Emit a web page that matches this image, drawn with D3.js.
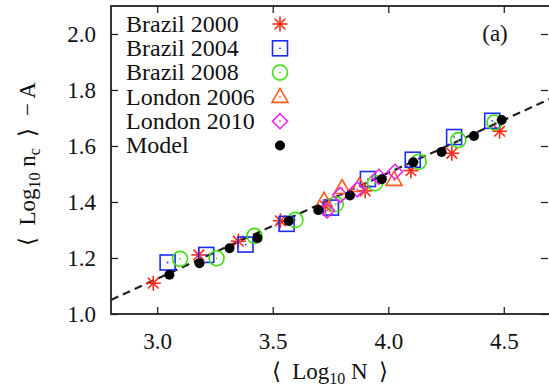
<!DOCTYPE html>
<html>
<head>
<meta charset="utf-8">
<script src="https://cdn.jsdelivr.net/npm/d3@7/dist/d3.min.js"></script>
<style>
  html, body { margin: 0; padding: 0; background: #fff; }
  svg { display: block; }
</style>
</head>
<body>
<svg id="chart" width="549" height="391"></svg>
<script>
// Series: [<Log10 N>, <Log10 nc> - A]
const brazil2000 = [[2.983,1.110],[3.180,1.211],[3.351,1.260],[3.533,1.333],[3.728,1.385],[3.900,1.440],[4.098,1.512],[4.275,1.574],[4.482,1.653]];
const brazil2004 = [[3.045,1.184],[3.212,1.211],[3.382,1.248],[3.560,1.322],[3.752,1.380],[3.912,1.482],[4.106,1.551],[4.285,1.632],[4.450,1.690]];
const brazil2008 = [[3.099,1.197],[3.257,1.199],[3.421,1.279],[3.598,1.336],[3.773,1.392],[3.943,1.467],[4.132,1.544],[4.303,1.621],[4.460,1.684]];
const london2006 = [[3.722,1.405],[3.800,1.450],[3.875,1.457],[4.025,1.479]];
const london2010 = [[3.735,1.370],[3.792,1.425],[3.866,1.445],[3.959,1.490],[4.029,1.508]];
const model      = [[3.053,1.140],[3.183,1.181],[3.313,1.235],[3.434,1.271],[3.569,1.332],[3.697,1.371],[3.834,1.423],[3.972,1.481],[4.108,1.542],[4.231,1.579],[4.371,1.636],[4.491,1.693]];

// Fitted line y = slope * x + intercept
const fitSlope = 0.378;
const fitIntercept = -0.008;

const xTicks = [3.0, 3.5, 4.0, 4.5];
const yTicks = [1.0, 1.2, 1.4, 1.6, 1.8, 2.0];
const xDomain = [2.8, 4.7];
const yDomain = [1.0, 2.1];

const FONT = "Liberation Serif";
const FS = 23;
const LEG_FS = 24;
const SUB = 16;

const svg = d3.select("#chart");
const M = { left: 111, right: 550, top: 6, bottom: 314 };

const x = d3.scaleLinear().domain(xDomain).range([M.left, M.right]);
const y = d3.scaleLinear().domain(yDomain).range([M.bottom, M.top]);

const tickLen = 7;
const fmt = d3.format(".1f");

function styleLabels(g) {
  g.attr("font-family", FONT).attr("font-size", FS);
  g.selectAll("text").attr("font-family", FONT).attr("font-size", FS).attr("fill", "#111");
}

// Axes with inward ticks on all four sides
svg.append("g").attr("transform", `translate(0,${M.bottom})`)
  .call(d3.axisBottom(x).tickValues(xTicks).tickSizeInner(-tickLen).tickSizeOuter(0).tickPadding(19).tickFormat(fmt))
  .call(g => g.select(".domain").remove())
  .call(styleLabels);
svg.append("g").attr("transform", `translate(0,${M.top})`)
  .call(d3.axisTop(x).tickValues(xTicks).tickSizeInner(-tickLen).tickSizeOuter(0).tickFormat(""))
  .call(g => g.select(".domain").remove());
svg.append("g").attr("transform", `translate(${M.left},0)`)
  .call(d3.axisLeft(y).tickValues(yTicks).tickSizeInner(-tickLen).tickSizeOuter(0).tickPadding(15).tickFormat(fmt))
  .call(g => g.select(".domain").remove())
  .call(styleLabels);
svg.append("g").attr("transform", `translate(${M.right - 2},0)`)
  .call(d3.axisRight(y).tickValues(yTicks).tickSizeInner(-tickLen).tickSizeOuter(0).tickFormat(""))
  .call(g => g.select(".domain").remove());
svg.selectAll(".tick line").attr("stroke", "#222").attr("stroke-width", 1.3);

// Plot border
svg.append("rect")
  .attr("x", M.left).attr("y", M.top)
  .attr("width", M.right - M.left).attr("height", M.bottom - M.top)
  .attr("fill", "none").attr("stroke", "#222").attr("stroke-width", 1.8);

// Dashed fit line
svg.append("clipPath").attr("id", "plotclip")
  .append("rect").attr("x", M.left).attr("y", M.top).attr("width", M.right - M.left).attr("height", M.bottom - M.top);
svg.append("line")
  .attr("clip-path", "url(#plotclip)")
  .attr("x1", x(xDomain[0])).attr("y1", y(fitSlope * xDomain[0] + fitIntercept))
  .attr("x2", x(xDomain[1])).attr("y2", y(fitSlope * xDomain[1] + fitIntercept))
  .attr("stroke", "#222").attr("stroke-width", 2.2).attr("stroke-dasharray", "8,5");

// Marker drawers
const sw = 1.6;
function star(g, color) {
  const r = 7.5;
  [0, 45, 90, 135].forEach(a => {
    const t = a * Math.PI / 180;
    g.append("line").attr("x1", -r * Math.cos(t)).attr("y1", -r * Math.sin(t))
      .attr("x2", r * Math.cos(t)).attr("y2", r * Math.sin(t))
      .attr("stroke", color).attr("stroke-width", sw);
  });
}
function centerDot(g, color) {
  g.append("circle").attr("r", 0.9).attr("fill", color);
}
function square(g, color) {
  g.append("rect").attr("x", -7.5).attr("y", -7.5).attr("width", 15).attr("height", 15)
    .attr("fill", "none").attr("stroke", color).attr("stroke-width", sw);
  centerDot(g, color);
}
function circle(g, color) {
  g.append("circle").attr("r", 7.5).attr("fill", "none").attr("stroke", color).attr("stroke-width", sw);
  centerDot(g, color);
}
function triangle(g, color) {
  g.append("path").attr("d", "M0,-8.5L8,5.5L-8,5.5Z")
    .attr("fill", "none").attr("stroke", color).attr("stroke-width", sw);
  centerDot(g, color);
}
function diamond(g, color) {
  g.append("path").attr("d", "M0,-7.5L7.5,0L0,7.5L-7.5,0Z")
    .attr("fill", "none").attr("stroke", color).attr("stroke-width", sw);
  centerDot(g, color);
}
function dot(g, color) {
  g.append("circle").attr("r", 5).attr("fill", color);
}

const series = [
  { name: "Brazil 2000", data: brazil2000, color: "#ff2a1a", draw: star },
  { name: "Brazil 2004", data: brazil2004, color: "#1a2cf0", draw: square },
  { name: "Brazil 2008", data: brazil2008, color: "#3fe010", draw: circle },
  { name: "London 2006", data: london2006, color: "#ff5a1a", draw: triangle },
  { name: "London 2010", data: london2010, color: "#f020f0", draw: diamond },
  { name: "Model",       data: model,      color: "#000000", draw: dot }
];

const plot = svg.append("g").attr("clip-path", "url(#plotclip)");
series.forEach(s => {
  s.data.forEach(d => {
    const g = plot.append("g").attr("transform", `translate(${x(d[0])},${y(d[1])})`);
    s.draw(g, s.color);
  });
});

// Legend
const legend = svg.append("g");
series.forEach((s, i) => {
  const cy = 24 + i * 24.3;
  legend.append("text").attr("x", 126).attr("y", cy + 7.7)
    .attr("font-family", FONT).attr("font-size", LEG_FS).attr("fill", "#111").text(s.name);
  const g = legend.append("g").attr("transform", `translate(280,${cy})`);
  s.draw(g, s.color);
});

// Panel tag
svg.append("text").attr("x", 495).attr("y", 41).attr("text-anchor", "middle")
  .attr("font-family", FONT).attr("font-size", FS).attr("fill", "#111").text("(a)");

// Axis titles (en spaces keep the brackets apart)
const xt = svg.append("text").attr("x", 330).attr("y", 379).attr("text-anchor", "middle")
  .attr("font-family", FONT).attr("font-size", FS).attr("fill", "#111");
xt.append("tspan").text("\u27E8\u2002Log");
xt.append("tspan").attr("font-size", SUB).attr("dy", 5).text("10");
xt.append("tspan").attr("dy", -5).text(" N\u2002\u27E9");

const yt = svg.append("text").attr("transform", "translate(35,164) rotate(-90)")
  .attr("text-anchor", "middle").attr("font-family", FONT).attr("font-size", FS).attr("fill", "#111");
yt.append("tspan").text("\u27E8\u2002Log");
yt.append("tspan").attr("font-size", SUB).attr("dy", 5).text("10");
yt.append("tspan").attr("dy", -5).text(" n");
yt.append("tspan").attr("font-size", SUB).attr("dy", 5).text("c");
yt.append("tspan").attr("dy", -5).text("\u2002\u27E9\u2002\u2212 A");
</script>
</body>
</html>
